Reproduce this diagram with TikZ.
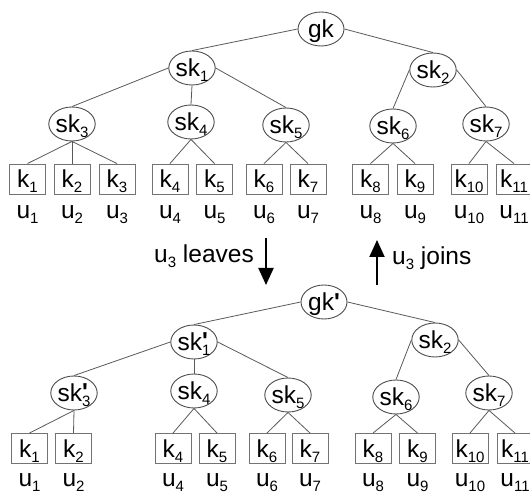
\documentclass[tikz,border=0pt]{standalone}
\usepackage{fontspec}
\setmainfont{Liberation Sans}
\newfontfamily\tickfont{Liberation Sans Bold}[Ligatures=TeXOff]
\usetikzlibrary{shapes.geometric,arrows.meta}

% subscript, prime tick and the font used for all labels
\newcommand\sbs[1]{\raisebox{-5pt}{\fontsize{15}{15}\selectfont #1}}
\newcommand\tck{{\tickfont\char"27}}
\newcommand\lblfont{\fontsize{24.5}{28}\selectfont}

\tikzset{
  keynode/.style={ellipse, draw=black!70, line width=0.9pt,
    minimum width=46pt, minimum height=34pt, inner sep=0pt,
    text height=17pt, text depth=0pt, font=\lblfont},
  leafbox/.style={rectangle, draw=black!55, line width=0.9pt,
    minimum width=36pt, minimum height=30pt, inner sep=0pt,
    text height=17pt, text depth=0pt, font=\lblfont},
  member/.style={anchor=base, inner sep=0pt, font=\lblfont},
  caption/.style={anchor=base west, inner sep=0pt, font=\lblfont},
  link/.style={draw=black!65, line width=0.8pt},
  change/.style={draw=black, line width=2pt,
    -{Triangle[width=15pt,length=17pt]}}
}

\begin{document}
\begin{tikzpicture}[x=1pt,y=-1pt]
\useasboundingbox (0,0) rectangle (530,494);

% ---------- key tree before the change ----------
\node[keynode] (a0) at (321,29)  {gk};
\node[keynode] (a1) at (192,68)  {sk\sbs{1}};
\node[keynode] (a2) at (433,70)  {sk\sbs{2}};
\node[keynode] (a3) at (72,124)  {sk\sbs{3}};
\node[keynode] (a4) at (191,122) {sk\sbs{4}};
\node[keynode] (a5) at (286,125) {sk\sbs{5}};
\node[keynode] (a6) at (393,126) {sk\sbs{6}};
\node[keynode] (a7) at (486,124) {sk\sbs{7}};

\foreach \i/\x in {1/27.5,2/72,3/117,4/170,5/214.5,6/264,7/308,8/370.5,9/415,10/469,11/514}{
  \node[leafbox] (ak\i) at (\x,179) {k\sbs{\i}};
  \node[member]  (au\i) at (\x,219) {u\sbs{\i}};
}

\draw[link] (a0.west) -- (a1.north);
\draw[link] (a0.east) -- (a2.north);
\draw[link] (a1.west) -- (a3.north);
\draw[link] (a1.south) -- (a4.north);
\draw[link] (a1.east) -- (a5.north);
\draw[link] (a2.west) -- (a6.north);
\draw[link] (a2.east) -- (a7.north);
\foreach \p/\c in {a3/ak1,a3/ak2,a3/ak3,a4/ak4,a4/ak5,a5/ak6,a5/ak7,a6/ak8,a6/ak9,a7/ak10,a7/ak11}{
  \draw[link] (\p.south) -- (\c.north);
}

% ---------- membership changes ----------
\coordinate (lvA) at (266,238);
\coordinate (lvB) at (266,285);
\coordinate (jnA) at (377,285);
\coordinate (jnB) at (377,240);
\draw[change] (lvA) -- (lvB);
\draw[change] (jnA) -- (jnB);
\node[caption] (leavetxt) at (154,263) {u\sbs{3} leaves};
\node[caption] (jointxt)  at (392,265) {u\sbs{3} joins};

% ---------- key tree after the change ----------
\node[keynode] (b0) at (324,302) {gk\tck};
\node[keynode] (b1) at (194,342) {sk\rlap{\raisebox{1pt}{\tck}}\sbs{1}};
\node[keynode] (b2) at (435,340) {sk\sbs{2}};
\node[keynode] (b3) at (74,393)  {sk\rlap{\raisebox{1pt}{\tck}}\sbs{3}};
\node[keynode] (b4) at (194,391) {sk\sbs{4}};
\node[keynode] (b5) at (288,395) {sk\sbs{5}};
\node[keynode] (b6) at (396,397) {sk\sbs{6}};
\node[keynode] (b7) at (489,393) {sk\sbs{7}};

\foreach \i/\x in {1/29.5,2/73.5,4/173,5/217,6/267,7/310,8/373,9/417.5,10/470,11/515}{
  \node[leafbox] (bk\i) at (\x,448.5) {k\sbs{\i}};
  \node[member]  (bu\i) at (\x,486) {u\sbs{\i}};
}

\draw[link] (b0.west) -- (b1.north);
\draw[link] (b0.east) -- (b2.north);
\draw[link] (b1.west) -- (b3.north);
\draw[link] (b1.south) -- (b4.north);
\draw[link] (b1.east) -- (b5.north);
\draw[link] (b2.west) -- (b6.north);
\draw[link] (b2.east) -- (b7.north);
\foreach \p/\c in {b3/bk1,b3/bk2,b4/bk4,b4/bk5,b5/bk6,b5/bk7,b6/bk8,b6/bk9,b7/bk10,b7/bk11}{
  \draw[link] (\p.south) -- (\c.north);
}
\end{tikzpicture}
\end{document}
